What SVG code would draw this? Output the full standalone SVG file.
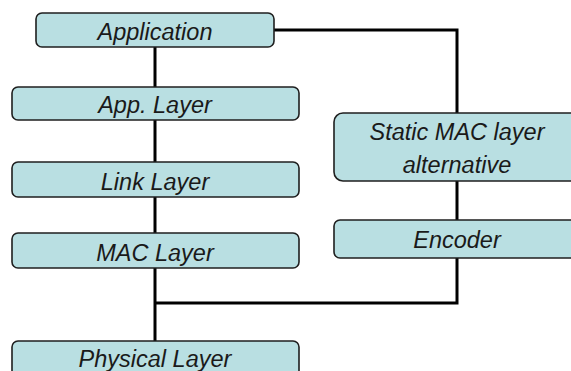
<svg xmlns="http://www.w3.org/2000/svg" width="571" height="371" viewBox="0 0 571 371">
<style>
.box{fill:#b9dfe2;stroke:#1f1f1f;stroke-width:1.6}
.lbl{font-family:"Liberation Sans",Arial,sans-serif;font-style:italic;font-size:23.5px;fill:#1a1a1a;text-anchor:middle}
.wire{fill:none;stroke:#000;stroke-width:3}
</style>
<rect width="571" height="371" fill="#fff"/>
<g id="connectors">
<polyline class="wire" points="274,30 457,30 457,303 155,303"/>
<line class="wire" x1="155" y1="47" x2="155" y2="341"/>
</g>
<g id="application"><rect class="box" x="36" y="13" width="238" height="34" rx="6"/><text class="lbl" x="155" y="40">Application</text></g>
<g id="app-layer"><rect class="box" x="12" y="87" width="287" height="33" rx="6"/><text class="lbl" x="155" y="113">App. Layer</text></g>
<g id="link-layer"><rect class="box" x="12" y="162" width="287" height="35" rx="6"/><text class="lbl" x="155" y="190">Link Layer</text></g>
<g id="mac-layer"><rect class="box" x="12" y="233" width="287" height="35" rx="6"/><text class="lbl" x="155" y="261">MAC Layer</text></g>
<g id="physical-layer"><rect class="box" x="12" y="341" width="287" height="40" rx="6"/><text class="lbl" x="155" y="367">Physical Layer</text></g>
<g id="static-mac"><rect class="box" x="334" y="113" width="250" height="68" rx="9"/><text class="lbl" x="457" y="140">Static MAC layer</text><text class="lbl" x="457" y="173">alternative</text></g>
<g id="encoder"><rect class="box" x="334" y="220" width="250" height="38" rx="6"/><text class="lbl" x="457" y="248">Encoder</text></g>
</svg>
